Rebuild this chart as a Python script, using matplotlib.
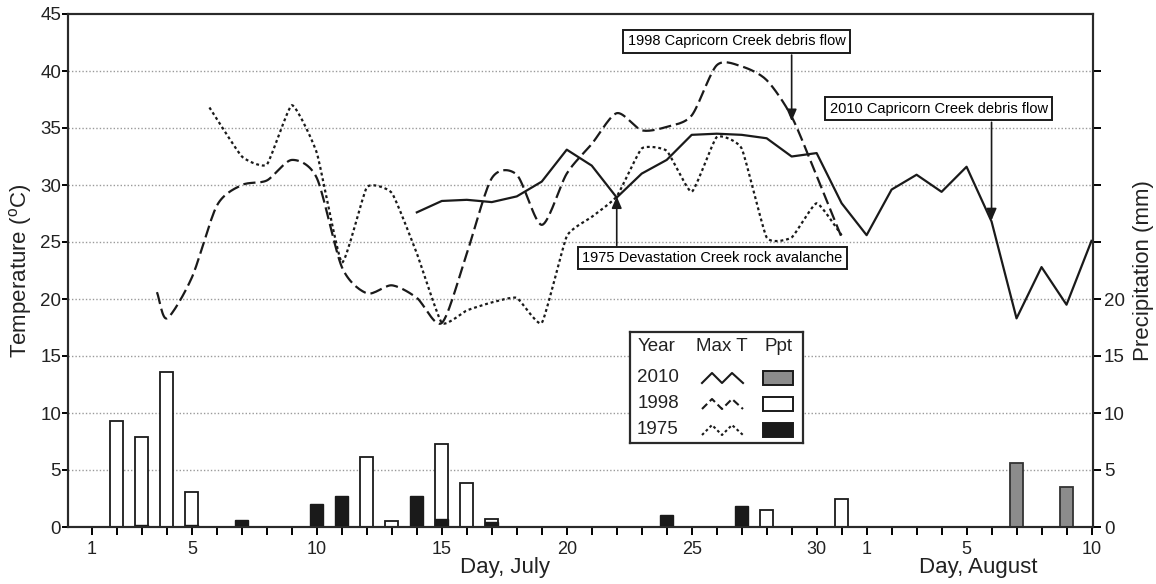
import numpy as np
import matplotlib
matplotlib.use('Agg')
import matplotlib.pyplot as plt
from matplotlib.patches import Rectangle

plt.rcParams['font.family'] = ['Liberation Sans', 'DejaVu Sans']
plt.rcParams['mathtext.fontset'] = 'custom'
plt.rcParams['mathtext.rm'] = 'Liberation Sans'

# day index: July d -> d, August d -> 31 + d
days_2010 = list(range(14, 42))
tmax_2010 = [27.6, 28.6, 28.7, 28.5, 29.0, 30.3, 33.1, 31.7, 28.9, 31.0, 32.2, 34.4,
             34.5, 34.4, 34.1, 32.5, 32.8, 28.4, 25.6, 29.6, 30.9, 29.4, 31.6, 26.8,
             18.3, 22.8, 19.5, 25.1]

days_1998 = [3.6] + list(range(4, 32))
tmax_1998 = [20.6, 18.3, 21.9, 28.2, 30.0, 30.4, 32.2, 30.6, 22.8, 20.5, 21.2, 20.1,
             17.9, 24.0, 30.6, 30.9, 26.5, 31.0, 33.6, 36.3, 34.8, 35.1, 36.1, 40.5,
             40.4, 39.2, 36.0, 30.8, 25.4]

days_1975 = [5.7] + list(range(7, 32))
tmax_1975 = [36.8, 32.5, 31.8, 37.0, 32.8, 23.2, 29.8, 29.3, 24.0, 17.9, 19.0, 19.7,
             20.1, 17.9, 25.5, 27.2, 29.0, 33.2, 33.0, 29.4, 34.2, 33.2, 25.4, 25.4,
             28.4, 25.6]

ppt_days_1998 = [2, 3, 4, 5, 12, 13, 15, 16, 17, 28, 31]
ppt_1998 = [9.3, 7.9, 13.6, 3.1, 6.1, 0.5, 7.3, 3.9, 0.7, 1.5, 2.5]
ppt_days_1975 = [3, 5, 7, 10, 11, 14, 15, 17, 24, 27]
ppt_1975 = [0.15, 0.15, 0.6, 2.0, 2.7, 2.7, 0.7, 0.4, 1.05, 1.8]
ppt_days_2010 = [38, 40]
ppt_2010 = [5.6, 3.5]

tick_days = list(range(1, 42))
tick_text = {1: '1', 5: '5', 10: '10', 15: '15', 20: '20', 25: '25', 30: '30',
             32: '1', 36: '5', 41: '10'}

INK = '#1a1a1a'


def smooth(x, y, tension=1.0, n=16):
    # cardinal spline through the points, like a "smoothed line" in a spreadsheet
    x = np.asarray(x, float)
    y = np.asarray(y, float)
    px = np.concatenate([[2 * x[0] - x[1]], x, [2 * x[-1] - x[-2]]])
    py = np.concatenate([[2 * y[0] - y[1]], y, [2 * y[-1] - y[-2]]])
    t = np.linspace(0, 1, n, endpoint=False)
    h00 = 2 * t ** 3 - 3 * t ** 2 + 1
    h10 = t ** 3 - 2 * t ** 2 + t
    h01 = -2 * t ** 3 + 3 * t ** 2
    h11 = t ** 3 - t ** 2
    xs, ys = [], []
    for i in range(1, len(px) - 2):
        for p, out in ((px, xs), (py, ys)):
            m1 = tension * (p[i + 1] - p[i - 1]) / 2
            m2 = tension * (p[i + 2] - p[i]) / 2
            out.extend(h00 * p[i] + h10 * m1 + h01 * p[i + 1] + h11 * m2)
    xs.append(x[-1])
    ys.append(y[-1])
    return np.array(xs), np.array(ys)


fig = plt.figure(figsize=(11.56, 5.84), dpi=100)
ax = fig.add_axes([68 / 1156, 1 - 527 / 584, (1093 - 68) / 1156, (527 - 14) / 584])

ax.set_xlim(0.04, 41.06)
ax.set_ylim(0, 45)

# grid
for g in range(5, 45, 5):
    ax.axhline(g, color='#9a9a9a', lw=1.0, ls=(0, (1, 1.5)), zorder=0)

# precipitation bars (same scale as temperature)
bw = 0.52
ax.bar(ppt_days_1998, ppt_1998, width=bw, color='white', edgecolor=INK, lw=1.3, zorder=2)
ax.bar(ppt_days_1975, ppt_1975, width=bw, color=INK, edgecolor=INK, lw=1.0, zorder=3)
ax.bar(ppt_days_2010, ppt_2010, width=bw, color='#8c8c8c', edgecolor='#333333', lw=1.3, zorder=3)

# temperature lines
sx, sy = smooth(days_1975, tmax_1975, tension=0.45)
ax.plot(sx, sy, color=INK, lw=1.6, dashes=(1.3, 1.3), zorder=4)
sx, sy = smooth(days_1998, tmax_1998, tension=0.8)
ax.plot(sx, sy, color=INK, lw=1.6, dashes=(5.5, 2.2), zorder=4)
ax.plot(days_2010, tmax_2010, color=INK, lw=1.6, zorder=5)

# axes styling
for s in ax.spines.values():
    s.set_linewidth(1.5)
    s.set_color('#2a2a2a')
ax.set_xticks(tick_days)
ax.set_xticklabels([tick_text.get(d, '') for d in tick_days], fontsize=13, color='#222222')
ax.tick_params(axis='x', direction='out', length=6, width=1.4, pad=4)
ax.set_yticks(range(0, 46, 5))
ax.tick_params(axis='y', direction='out', length=4, width=1.4, labelsize=13.5,
               labelcolor='#222222', pad=1)
ax.set_ylabel('Temperature ($^{\\mathrm{o}}$C)', fontsize=16, color='#222222', labelpad=4)

ax2 = ax.twinx()
ax2.set_ylim(0, 45)
ax2.set_yticks(range(0, 41, 5))
ax2.set_yticklabels([str(v) if v <= 20 else '' for v in range(0, 41, 5)])
ax2.tick_params(axis='y', direction='out', length=6, width=1.4, labelsize=13.5,
                labelcolor='#222222', pad=2)
ax2.set_ylabel('Precipitation (mm)', fontsize=16, color='#222222', labelpad=6)
for s in ax2.spines.values():
    s.set_linewidth(1.5)
    s.set_color('#2a2a2a')

fig.text(505 / 1156, 1 - 568 / 584, 'Day, July', fontsize=16, ha='center', va='center',
         color='#222222')
fig.text(978 / 1156, 1 - 568 / 584, 'Day, August', fontsize=16, ha='center', va='center',
         color='#222222')

# event annotations
box = dict(boxstyle='square,pad=0.3', fc='white', ec=INK, lw=1.4)
arrow = dict(arrowstyle='-|>,head_length=0.7,head_width=0.3', color=INK, lw=1.2,
             shrinkA=0, shrinkB=0)
ax2.text(26.8, 42.6, '1998 Capricorn Creek debris flow', fontsize=10.5, ha='center',
         va='center', bbox=box, zorder=10)
ax2.annotate('', xy=(29.0, 35.6), xytext=(29.0, 41.4), arrowprops=arrow, zorder=10)
ax2.text(34.88, 36.7, '2010 Capricorn Creek debris flow', fontsize=10.5, ha='center',
         va='center', bbox=box, zorder=10)
ax2.annotate('', xy=(37.0, 26.9), xytext=(37.0, 35.5), arrowprops=arrow, zorder=10)
ax2.text(25.83, 23.6, '1975 Devastation Creek rock avalanche', fontsize=10.5, ha='center',
         va='center', bbox=box, zorder=10)
ax2.annotate('', xy=(22.0, 29.0), xytext=(22.0, 24.7), arrowprops=arrow, zorder=10)

# legend box, laid out in pixel units
lg = fig.add_axes([630 / 1156, 1 - 443 / 584, 173 / 1156, 111 / 584])
lg.set_xlim(630, 803)
lg.set_ylim(443, 332)
lg.set_xticks([])
lg.set_yticks([])
for s in lg.spines.values():
    s.set_linewidth(1.6)
    s.set_color('#2a2a2a')
lg.text(657, 347, 'Year', fontsize=13.5, ha='center', va='center', color='#222222')
lg.text(722, 347, 'Max T', fontsize=13.5, ha='center', va='center', color='#222222')
lg.text(778, 347, 'Ppt', fontsize=13.5, ha='center', va='center', color='#222222')
rows = [('2010', 378, '-', '#8c8c8c'), ('1998', 404, (0, (3.5, 1.8)), 'white'),
        ('1975', 430, (0, (1.3, 1.3)), INK)]
zx = np.array([702, 712, 722, 732, 743])
zy = np.array([5, -5, 5, -5, 5])
for year, yy, ls, fc in rows:
    lg.text(658, yy, year, fontsize=13.5, ha='center', va='center', color='#222222')
    lg.plot(zx, yy + zy, color=INK, lw=1.5, ls=ls)
    lg.add_patch(Rectangle((763, yy - 7), 30, 14, fc=fc, ec=INK, lw=1.4))

fig.savefig('out.png', dpi=100)
